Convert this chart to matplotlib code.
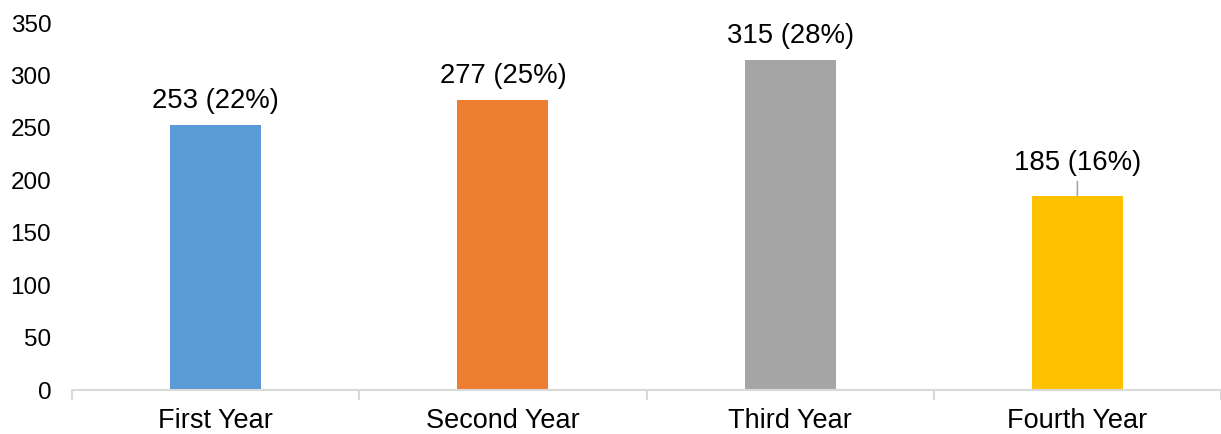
import matplotlib.pyplot as plt
import numpy as np

plt.rcParams["font.family"] = ["Liberation Sans", "DejaVu Sans"]

years = ["First Year", "Second Year", "Third Year", "Fourth Year"]
counts = [253, 277, 315, 185]
shares = [22, 25, 28, 16]
colors = ["#5B9BD5", "#ED7D31", "#A5A5A5", "#FFC000"]

fig = plt.figure(figsize=(12.21, 4.34), dpi=100)
ax = fig.add_axes([0.059, 0.101, 0.941, 0.846])

x = np.arange(len(years))
ax.bar(x, counts, width=0.317, color=colors)

# etiquettes au dessus des barres
for i, (c, s) in enumerate(zip(counts, shares)):
    off = 17
    if i == 3:
        off = 24
        ax.annotate("", xy=(i, c), xytext=(0, 10.5), textcoords="offset points",
                    arrowprops=dict(arrowstyle="-", color="#a6a6a6", lw=1.2,
                                    shrinkA=0, shrinkB=0.5))
    ax.annotate(f"{c} ({s}%)", xy=(i, c), xytext=(0, off),
                textcoords="offset points", ha="center", va="center",
                fontsize=19.8, color="#000000")

ax.set_xlim(-0.5, 3.5)
ax.set_ylim(0, 350)
ax.set_yticks(np.arange(0, 351, 50))
ax.set_xticks(x)
ax.set_xticklabels(years)
ax.set_xticks(np.arange(-0.5, 3.6, 1), minor=True)

for sp in ["left", "right", "top"]:
    ax.spines[sp].set_visible(False)
ax.spines["bottom"].set_color("#d9d9d9")
ax.spines["bottom"].set_linewidth(1.5)

ax.tick_params(axis="y", length=0, labelsize=17.5, pad=15)
ax.tick_params(axis="x", which="major", length=0, labelsize=19.5, pad=13)
ax.tick_params(axis="x", which="minor", length=7, width=1.5, color="#d9d9d9")

fig.savefig("out.png", dpi=100)
